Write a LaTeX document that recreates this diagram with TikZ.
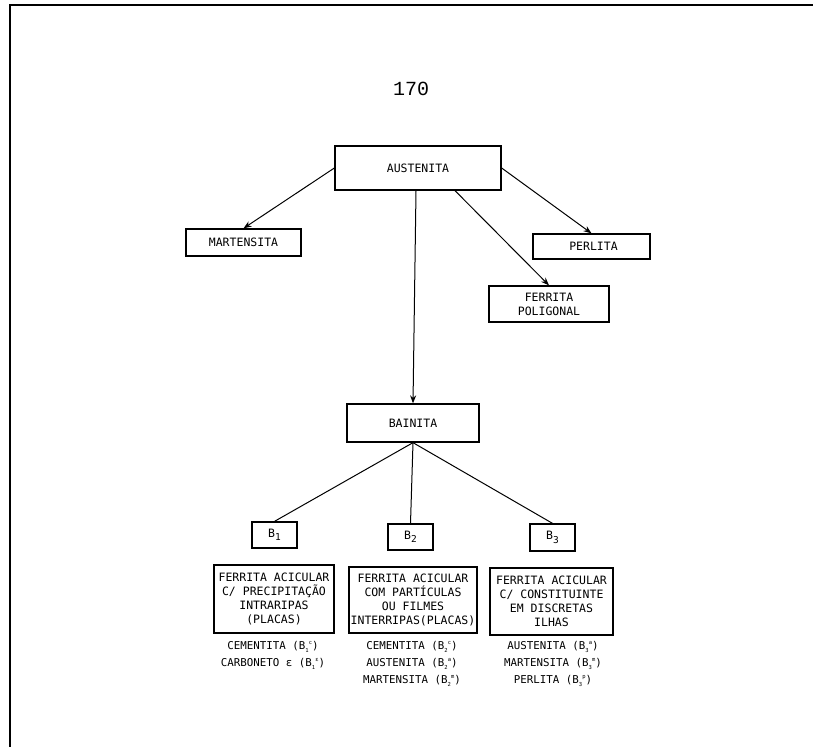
\documentclass[tikz,border=0pt]{standalone}
\usepackage{fontspec}
\newfontfamily\plot{DejaVu Sans Mono}
\newfontfamily\pagefont{Liberation Mono}
\usetikzlibrary{arrows.meta}
\newcommand\Bsc[2]{B\raisebox{-0.45ex}{\fontsize{5.5}{5.5}\selectfont#1}\raisebox{0.85ex}{\fontsize{5.5}{5.5}\selectfont#2}}
\newcommand\Bsb[1]{B\raisebox{-0.55ex}{\fontsize{9.5}{9.5}\selectfont#1}}
\tikzset{
  box/.style={draw, line width=1.3pt, inner sep=0pt, align=center,
    font=\plot\fontsize{11.5}{13.8}\selectfont},
  link/.style={line width=1pt},
  arr/.style={link, -{Stealth[length=8pt,width=6pt]}},
  lst/.style={inner sep=0pt, align=center, anchor=north,
    font=\plot\fontsize{10.8}{17}\selectfont},
}
\begin{document}
\begin{tikzpicture}[x=1pt,y=-1pt]
\useasboundingbox (0,0) rectangle (813,747);
\fill[white] (0,0) rectangle (813,747);
\coordinate (fr1) at (813,5);
\coordinate (fr2) at (10,5);
\coordinate (fr3) at (10,747);
\draw[line width=2.6pt] (fr1) -- (fr2) -- (fr3);

\node[font=\pagefont\fontsize{20}{20}\selectfont] (pg) at (411,89) {170};

\node[box, minimum width=166pt, minimum height=44pt] (aus) at (418,168) {AUSTENITA};
\node[box, minimum width=115pt, minimum height=27pt] (mar) at (243.5,242.5) {MARTENSITA};
\node[box, minimum width=117pt, minimum height=25pt] (per) at (591.5,246.5) {\hspace*{4pt}PERLITA};
\node[box, minimum width=120pt, minimum height=36pt] (fer) at (549,304) {FERRITA\\POLIGONAL};
\node[box, minimum width=132pt, minimum height=38pt] (bai) at (413,423) {BAINITA};

\node[box, minimum width=45pt, minimum height=26pt] (b1) at (274.5,535) {\Bsb{1}};
\node[box, minimum width=45pt, minimum height=26pt] (b2) at (410.5,537) {\Bsb{2}};
\node[box, minimum width=45pt, minimum height=27pt] (b3) at (552.5,537.5) {\Bsb{3}};

\node[box, minimum width=120pt, minimum height=68pt] (f1) at (274,599)
  {FERRITA ACICULAR\\C/ PRECIPITAÇÃO\\INTRARIPAS\\(PLACAS)};
\node[box, minimum width=128pt, minimum height=66pt] (f2) at (413,600)
  {FERRITA ACICULAR\\COM PARTÍCULAS\\OU FILMES\\INTERRIPAS(PLACAS)};
\node[box, minimum width=123pt, minimum height=67pt] (f3) at (551.5,601.5)
  {FERRITA ACICULAR\\C/ CONSTITUINTE\\EM DISCRETAS\\ILHAS};

\node[lst] (l1) at (273,641) {CEMENTITA (\Bsc{1}{c})\\CARBONETO ε (\Bsc{1}{ε})};
\node[lst] (l2) at (412,641) {CEMENTITA (\Bsc{2}{c})\\AUSTENITA (\Bsc{2}{a})\\MARTENSITA (\Bsc{2}{m})};
\node[lst] (l3) at (553,641) {AUSTENITA (\Bsc{3}{a})\\MARTENSITA (\Bsc{3}{m})\\PERLITA (\Bsc{3}{p})};

\draw[arr] (aus.west) -- (mar.north);
\draw[arr] (aus.east) -- (per.north);
\draw[arr] ([xshift=37pt]aus.south) -- (fer.north);
\draw[arr] ([xshift=-2pt]aus.south) -- (bai.north);

\draw[link] (bai.south) -- (b1.north);
\draw[link] (bai.south) -- (b2.north);
\draw[link] (bai.south) -- (b3.north);
\end{tikzpicture}
\end{document}
